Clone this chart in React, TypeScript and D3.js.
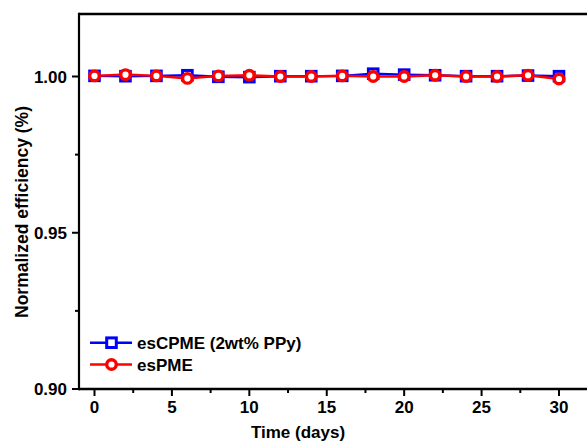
import React from "react";
import * as d3 from "d3";

const days = [0, 2, 4, 6, 8, 10, 12, 14, 16, 18, 20, 22, 24, 26, 28, 30];
const blueValues = [1.0002, 1.0001, 1.0002, 1.0004, 0.9999, 0.9998, 1.0001, 1.0001, 1.0002, 1.0009, 1.0006, 1.0004, 1.0001, 1.0001, 1.0003, 1.0001];
const redValues = [1.0002, 1.0006, 1.0002, 0.9994, 1.0002, 1.0004, 1.0, 1.0, 1.0002, 1.0, 1.0, 1.0004, 1.0, 1.0, 1.0004, 0.9992];
const xMajorTicks = [0, 5, 10, 15, 20, 25, 30];
const xMinorTicks = [2.5, 7.5, 12.5, 17.5, 22.5, 27.5];
const yMajorTicks = [0.9, 0.95, 1.0];
const yMinorTicks = [0.925, 0.975];
const seriesNames = ["esCPME (2wt% PPy)", "esPME"];

const W = 587;
const H = 443;
const left = 79;
const top = 14;
const bottom = 389;
const FONT = "'Liberation Sans', Arial, sans-serif";

export default function App() {
  const x = d3.scaleLinear().domain([0, 30]).range([94.5, 559]);
  const y = d3.scaleLinear().domain([0.9, 1.02]).range([bottom, top]);
  const line = d3
    .line<[number, number]>()
    .x((d) => x(d[0]))
    .y((d) => y(d[1]));
  const blueData: [number, number][] = days.map((d, i) => [d, blueValues[i]]);
  const redData: [number, number][] = days.map((d, i) => [d, redValues[i]]);

  return (
    <svg
      width={W}
      height={H}
      style={{ position: "absolute", left: 0, top: 0, background: "#fff" }}
      fontFamily={FONT}
    >
      <rect x={0} y={0} width={W} height={H} fill="#fff" />
      {/* axes box */}
      <line x1={left} y1={top} x2={W} y2={top} stroke="#000" strokeWidth={2.5} />
      <line x1={left} y1={top - 1.25} x2={left} y2={bottom + 1.25} stroke="#000" strokeWidth={2.2} />
      <line x1={left} y1={bottom} x2={W} y2={bottom} stroke="#000" strokeWidth={2.5} />

      {/* y ticks */}
      {yMajorTicks.map((t) => (
        <g key={"ym" + t}>
          <line x1={left - 7} x2={left} y1={y(t)} y2={y(t)} stroke="#000" strokeWidth={2} />
          <text x={67} y={y(t)} dy="0.36em" textAnchor="end" fontSize={17} fontWeight="bold">
            {d3.format(".2f")(t)}
          </text>
        </g>
      ))}
      {yMinorTicks.map((t) => (
        <line key={"yn" + t} x1={left - 4} x2={left} y1={y(t)} y2={y(t)} stroke="#000" strokeWidth={2} />
      ))}

      {/* x ticks */}
      {xMajorTicks.map((t) => (
        <g key={"xm" + t}>
          <line x1={x(t)} x2={x(t)} y1={bottom} y2={bottom + 7} stroke="#000" strokeWidth={2} />
          <text x={x(t)} y={413} textAnchor="middle" fontSize={17} fontWeight="bold">
            {t}
          </text>
        </g>
      ))}
      {xMinorTicks.map((t) => (
        <line key={"xn" + t} x1={x(t)} x2={x(t)} y1={bottom} y2={bottom + 4} stroke="#000" strokeWidth={2} />
      ))}

      {/* axis titles */}
      <text x={298} y={438} textAnchor="middle" fontSize={17} fontWeight="bold">
        Time (days)
      </text>
      <text transform={`translate(28, 212) rotate(-90)`} textAnchor="middle" fontSize={17.5} fontWeight="bold">
        Normalized efficiency (%)
      </text>

      {/* blue series */}
      <path d={line(blueData) || ""} fill="none" stroke="#0000ff" strokeWidth={2.5} />
      {blueData.map((d, i) => (
        <rect
          key={"b" + i}
          x={x(d[0]) - 4.8}
          y={y(d[1]) - 4.8}
          width={9.6}
          height={9.6}
          fill="#fff"
          stroke="#0000ff"
          strokeWidth={3}
        />
      ))}

      {/* red series */}
      <path d={line(redData) || ""} fill="none" stroke="#ff0000" strokeWidth={2.5} />
      {redData.map((d, i) => (
        <circle key={"r" + i} cx={x(d[0])} cy={y(d[1])} r={4.8} fill="#fff" stroke="#ff0000" strokeWidth={3.4} />
      ))}

      {/* legend */}
      <g>
        <line x1={90} x2={132} y1={342.7} y2={342.7} stroke="#0000ff" strokeWidth={2.5} />
        <rect x={111.5 - 4.8} y={342.7 - 4.8} width={9.6} height={9.6} fill="#fff" stroke="#0000ff" strokeWidth={3} />
        <text x={137} y={348.5} fontSize={17} fontWeight="bold">
          {seriesNames[0]}
        </text>
        <line x1={90} x2={132} y1={364.5} y2={364.5} stroke="#ff0000" strokeWidth={2.5} />
        <circle cx={111.5} cy={364.5} r={4.8} fill="#fff" stroke="#ff0000" strokeWidth={3.4} />
        <text x={137} y={370.5} fontSize={17} fontWeight="bold">
          {seriesNames[1]}
        </text>
      </g>
    </svg>
  );
}
